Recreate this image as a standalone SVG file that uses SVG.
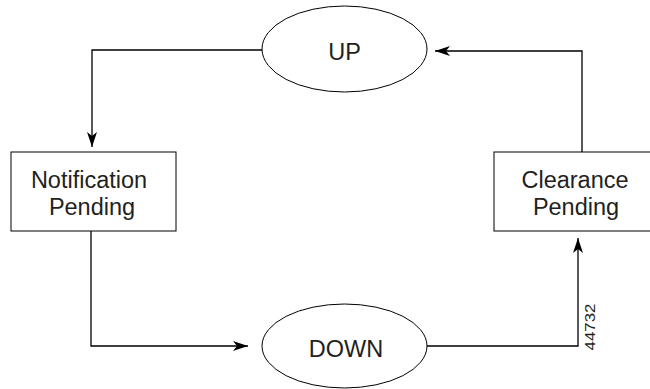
<svg xmlns="http://www.w3.org/2000/svg" width="650" height="389" viewBox="0 0 650 389">
<defs>
<style>
.n{fill:#fff;stroke:#000;stroke-width:1}
.t{font-family:"Liberation Sans",Arial,sans-serif;font-size:23.5px;fill:#231f20;text-anchor:middle}
.c{fill:none;stroke:#000;stroke-width:1.3}
</style>
<marker id="ah" markerWidth="16" markerHeight="10" refX="15" refY="5" orient="auto" markerUnits="userSpaceOnUse">
<path d="M0,0 L15,5 L0,10 L4,5 Z" fill="#000"/>
</marker>
</defs>
<rect width="650" height="389" fill="#fff"/>
<g id="connectors">
<path class="c" d="M262,50 H92 V147" marker-end="url(#ah)"/>
<path class="c" d="M91,231 V346 H248" marker-end="url(#ah)"/>
<path class="c" d="M427,346 H578 V238" marker-end="url(#ah)"/>
<path class="c" d="M582,152 V51 H435" marker-end="url(#ah)"/>
</g>
<g id="up">
<ellipse class="n" cx="344.5" cy="49" rx="82.5" ry="43"/>
<text class="t" x="344.5" y="60">UP</text>
</g>
<g id="notification">
<rect class="n" x="11" y="152" width="165" height="79"/>
<text class="t" x="89" y="188">Notification</text>
<text class="t" x="92" y="215">Pending</text>
</g>
<g id="clearance">
<rect class="n" x="494" y="152" width="162" height="79"/>
<text class="t" x="575" y="188">Clearance</text>
<text class="t" x="576" y="215">Pending</text>
</g>
<g id="down">
<ellipse class="n" cx="344.5" cy="346" rx="82.5" ry="42"/>
<text class="t" x="346" y="357">DOWN</text>
</g>
<text x="595" y="327" font-family="'Liberation Sans',Arial,sans-serif" font-size="14" fill="#231f20" text-anchor="middle" textLength="47" lengthAdjust="spacingAndGlyphs" transform="rotate(-90 595 327)">44732</text>
</svg>
